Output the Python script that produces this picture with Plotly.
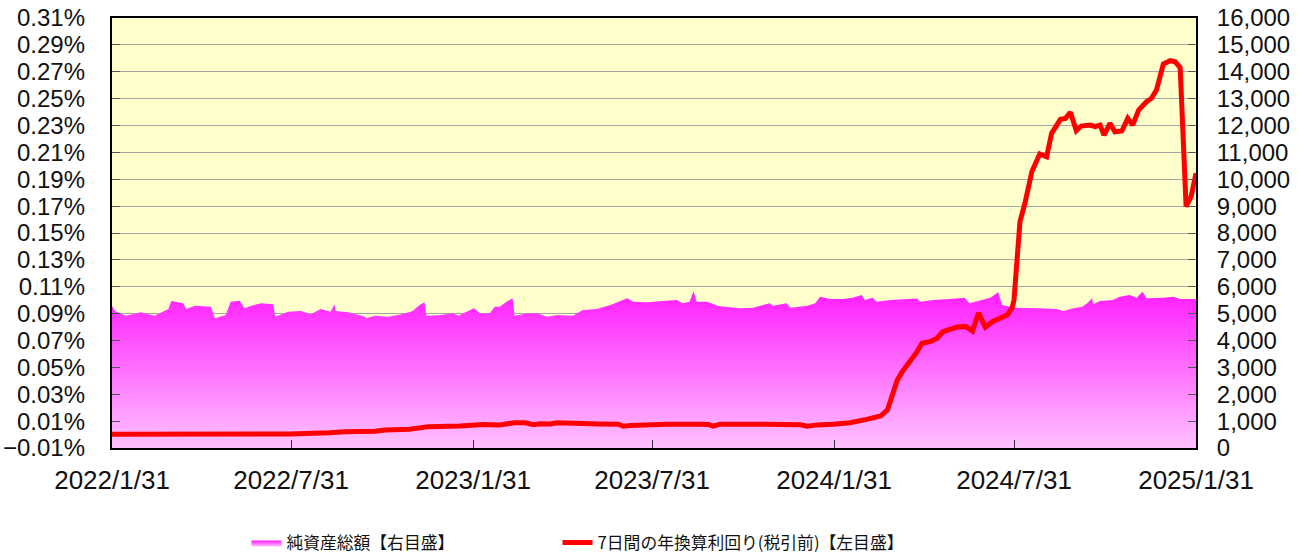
import plotly.graph_objects as go

# ---- Net assets (right axis, 百万円) ----
asset_dates = [
    "2022-01-31", "2022-02-03", "2022-02-14", "2022-03-01", "2022-03-15", "2022-03-29",
    "2022-04-01", "2022-04-13", "2022-04-16", "2022-04-25", "2022-05-11", "2022-05-15",
    "2022-05-26", "2022-05-31", "2022-06-09", "2022-06-14", "2022-06-21", "2022-07-01",
    "2022-07-13", "2022-07-15", "2022-07-28", "2022-08-10", "2022-08-20", "2022-08-30",
    "2022-09-09", "2022-09-13", "2022-09-14", "2022-09-27", "2022-10-14", "2022-10-15",
    "2022-10-24", "2022-11-06", "2022-11-16", "2022-11-24", "2022-12-01", "2022-12-08",
    "2022-12-13", "2022-12-15", "2022-12-29", "2023-01-11", "2023-01-16", "2023-01-28",
    "2023-02-01", "2023-02-07", "2023-02-17", "2023-02-22", "2023-02-27", "2023-03-06",
    "2023-03-12", "2023-03-14", "2023-03-27", "2023-04-06", "2023-04-16", "2023-04-26",
    "2023-05-12", "2023-05-22", "2023-06-05", "2023-06-19", "2023-07-06", "2023-07-12",
    "2023-07-26", "2023-08-11", "2023-08-25", "2023-08-31", "2023-09-07", "2023-09-11",
    "2023-09-14", "2023-09-25", "2023-10-06", "2023-10-28", "2023-11-10", "2023-11-27",
    "2023-11-30", "2023-12-14", "2023-12-18", "2024-01-04", "2024-01-12", "2024-01-17",
    "2024-01-27", "2024-02-09", "2024-02-19", "2024-02-28", "2024-03-02", "2024-03-10",
    "2024-03-14", "2024-03-28", "2024-04-24", "2024-04-27", "2024-05-10", "2024-05-27",
    "2024-06-11", "2024-06-16", "2024-06-30", "2024-07-07", "2024-07-15", "2024-07-19",
    "2024-08-01", "2024-08-13", "2024-08-26", "2024-09-12", "2024-09-19", "2024-09-29",
    "2024-10-08", "2024-10-13", "2024-10-18", "2024-10-19", "2024-10-26", "2024-11-08",
    "2024-11-15", "2024-11-25", "2024-12-02", "2024-12-08", "2024-12-12", "2024-12-29",
    "2025-01-08", "2025-01-15", "2025-01-31",
]
asset_values = [
    5295, 5098, 4923, 5050, 4923, 5172,
    5470, 5384, 5172, 5295, 5258, 4826,
    4949, 5445, 5482, 5198, 5295, 5384,
    5347, 4886, 5072, 5098, 4975, 5172,
    5072, 5347, 5098, 5050, 4886, 4826,
    4923, 4886, 4949, 5011, 5098, 5321,
    5420, 4923, 4949, 5011, 4923, 5135,
    5198, 5011, 5011, 5258, 5258, 5445,
    5569, 4923, 5011, 5011, 4886, 4949,
    4923, 5135, 5172, 5321, 5569, 5445,
    5420, 5470, 5507, 5384, 5445, 5830,
    5445, 5445, 5284, 5198, 5222, 5384,
    5295, 5384, 5222, 5295, 5384, 5631,
    5544, 5544, 5594, 5693, 5507, 5594,
    5445, 5507, 5560, 5445, 5507, 5544,
    5594, 5384, 5507, 5594, 5793, 5321,
    5222, 5222, 5198, 5172, 5098, 5198,
    5258, 5384, 5569, 5347, 5470, 5507,
    5631, 5693, 5594, 5817, 5569, 5594,
    5631, 5544, 5544,
]

# ---- 7-day annualized yield (left axis, %) ----
yield_dates = [
    "2022-01-31", "2022-03-10", "2022-04-30", "2022-06-20", "2022-07-30", "2022-09-08",
    "2022-09-24", "2022-10-24", "2022-11-03", "2022-11-28", "2022-12-08", "2022-12-17",
    "2023-01-18", "2023-02-10", "2023-02-27", "2023-03-14", "2023-03-25", "2023-04-02",
    "2023-04-09", "2023-04-19", "2023-04-26", "2023-05-06", "2023-05-19", "2023-06-08",
    "2023-06-27", "2023-07-02", "2023-07-09", "2023-07-22", "2023-08-15", "2023-09-18",
    "2023-09-26", "2023-10-01", "2023-10-08", "2023-11-24", "2023-12-28", "2024-01-04",
    "2024-01-14", "2024-01-30", "2024-02-16", "2024-03-04", "2024-03-18", "2024-03-25",
    "2024-03-30", "2024-04-04", "2024-04-09", "2024-04-17", "2024-04-24", "2024-04-29",
    "2024-05-07", "2024-05-14", "2024-05-20", "2024-05-27", "2024-06-04", "2024-06-12",
    "2024-06-19", "2024-06-25", "2024-07-02", "2024-07-09", "2024-07-17", "2024-07-24",
    "2024-07-29", "2024-07-31", "2024-08-06", "2024-08-11", "2024-08-18", "2024-08-26",
    "2024-09-02", "2024-09-07", "2024-09-16", "2024-09-21", "2024-09-26", "2024-10-02",
    "2024-10-07", "2024-10-16", "2024-10-21", "2024-10-26", "2024-10-30", "2024-11-05",
    "2024-11-10", "2024-11-17", "2024-11-23", "2024-11-28", "2024-12-04", "2024-12-12",
    "2024-12-17", "2024-12-22", "2024-12-29", "2025-01-05", "2025-01-10", "2025-01-15",
    "2025-01-21", "2025-01-26", "2025-01-31",
]
yield_values = [
    0.0002, 0.0001, 0.0002, 0.0002, 0.0004, 0.0014,
    0.0021, 0.0024, 0.0034, 0.0040, 0.0047, 0.0059,
    0.0064, 0.0075, 0.0072, 0.0088, 0.0088, 0.0074,
    0.0081, 0.0078, 0.0087, 0.0083, 0.0087, 0.0078,
    0.0077, 0.0062, 0.0068, 0.0072, 0.0076, 0.0077,
    0.0075, 0.0062, 0.0077, 0.0077, 0.0073, 0.0062,
    0.0072, 0.0077, 0.0088, 0.0113, 0.0138, 0.0183,
    0.0282, 0.0406, 0.0468, 0.0542, 0.0617, 0.0679,
    0.0691, 0.0716, 0.0765, 0.0783, 0.0800, 0.0805,
    0.0770, 0.0905, 0.0800, 0.0840, 0.0870, 0.0890,
    0.0942, 0.1001, 0.1584, 0.1720, 0.1956, 0.2088,
    0.2067, 0.2242, 0.2346, 0.2353, 0.2398, 0.2261,
    0.2296, 0.2303, 0.2291, 0.2303, 0.2229, 0.2316,
    0.2253, 0.2259, 0.2353, 0.2303, 0.2415, 0.2477,
    0.2502, 0.2564, 0.2757, 0.2782, 0.2774, 0.2730,
    0.1696, 0.1770, 0.1944,
]

x_tick_vals = ["2022-01-31", "2022-07-31", "2023-01-31", "2023-07-31",
               "2024-01-31", "2024-07-31", "2025-01-31"]
x_tick_text = ["2022/1/31", "2022/7/31", "2023/1/31", "2023/7/31",
               "2024/1/31", "2024/7/31", "2025/1/31"]
left_tick_vals = [-0.01, 0.01, 0.03, 0.05, 0.07, 0.09, 0.11, 0.13, 0.15, 0.17,
                  0.19, 0.21, 0.23, 0.25, 0.27, 0.29, 0.31]
left_tick_text = ["\u22120.01%", "0.01%", "0.03%", "0.05%", "0.07%", "0.09%", "0.11%",
                  "0.13%", "0.15%", "0.17%", "0.19%", "0.21%", "0.23%", "0.25%",
                  "0.27%", "0.29%", "0.31%"]
right_tick_vals = list(range(0, 16001, 1000))

name_assets = "純資産総額【右目盛】"
name_yield = "7日間の年換算利回り(税引前)【左目盛】"

Y_FONT = dict(family="Liberation Sans, Arial, sans-serif", size=24, color="#111111")
X_FONT = dict(family="Liberation Sans, Arial, sans-serif", size=26, color="#111111")
LEG_FONT = dict(family="Noto Sans CJK JP, sans-serif", size=16.8, color="#111111")

fig = go.Figure()
fig.add_trace(go.Scatter(
    x=asset_dates, y=asset_values, name=name_assets, mode="lines",
    line=dict(width=0, color="#ff33ff"), fill="tozeroy",
    fillgradient=dict(type="vertical", start=0, stop=5900,
                      colorscale=[[0, "#ffc2ff"], [1, "#ff1cff"]]),
    yaxis="y", hoverinfo="skip", legend="legend",
))
fig.add_trace(go.Scatter(
    x=yield_dates, y=yield_values, name=name_yield, mode="lines",
    line=dict(width=5, color="#ff0000"), yaxis="y2", legend="legend2",
))

fig.update_layout(
    width=1306, height=555,
    margin=dict(l=112, r=110, t=18, b=107, autoexpand=False),
    paper_bgcolor="white", plot_bgcolor="#ffffcc",
    xaxis=dict(
        type="date", range=["2022-01-31", "2025-01-31"],
        tickvals=x_tick_vals, ticktext=x_tick_text,
        ticks="inside", ticklen=8, tickwidth=1, tickcolor="#333333",
        showgrid=False, showline=True, linewidth=2, linecolor="black", mirror=True,
        tickfont=X_FONT, ticklabelstandoff=8, zeroline=False, automargin=False,
    ),
    yaxis=dict(
        side="right", range=[0, 16000], tickvals=right_tick_vals,
        tickformat=",d",
        ticks="inside", ticklen=8, tickwidth=1, tickcolor="#555555",
        showgrid=True, gridcolor="#a6a6a6", gridwidth=1,
        showline=True, linewidth=2, linecolor="black", mirror=True,
        tickfont=Y_FONT, ticklabelstandoff=14, zeroline=False, automargin=False,
    ),
    yaxis2=dict(
        side="left", overlaying="y", range=[-0.01, 0.31],
        tickvals=left_tick_vals, ticktext=left_tick_text,
        ticks="inside", ticklen=8, tickwidth=1, tickcolor="#555555",
        showgrid=False, showline=False, zeroline=False,
        tickfont=Y_FONT, ticklabelstandoff=26, automargin=False,
    ),
    showlegend=True,
    legend=dict(
        orientation="h", x=0.124, xanchor="left", y=-0.22, yanchor="middle",
        font=LEG_FONT, bgcolor="rgba(0,0,0,0)",
    ),
    legend2=dict(
        orientation="h", x=0.411, xanchor="left", y=-0.22, yanchor="middle",
        font=LEG_FONT, bgcolor="rgba(0,0,0,0)",
    ),
)

fig.write_html(
    "out.html",
    config={"displayModeBar": False},
    post_script="document.body.style.margin='0px';document.body.style.overflow='hidden';",
)
